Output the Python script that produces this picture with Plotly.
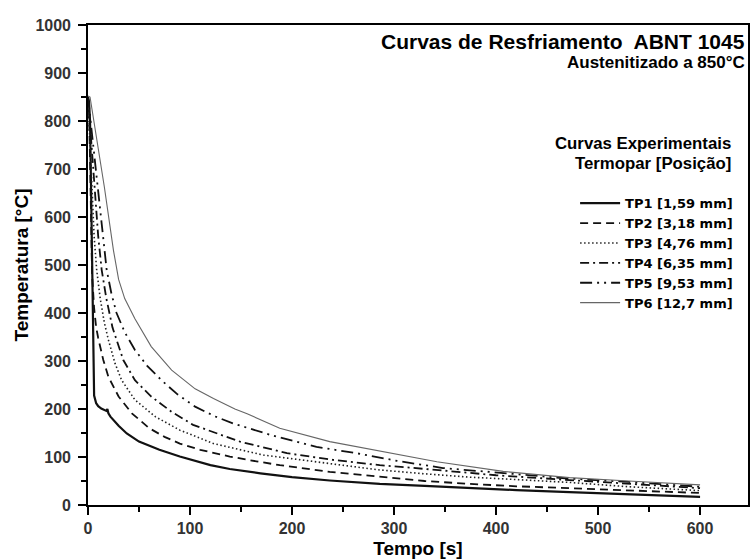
import plotly.graph_objects as go

# ---- data ----
t_tp1 = [0, 1, 2, 3, 4, 5, 6, 8, 10, 13, 18, 19, 20, 22, 30, 38, 50, 70, 90, 120, 139, 169, 200, 237, 286, 330, 374, 420, 472, 530, 600]
T_tp1 = [850, 840, 800, 650, 450, 280, 228, 212, 206, 201, 196, 200, 191, 184, 165, 149, 132, 115, 101, 83, 75, 66, 58, 51, 44, 40, 35, 31, 27, 22, 17]

t_tp2 = [0, 1, 2, 3, 4, 6, 8, 10, 15, 20, 30, 43, 60, 75, 90, 110, 139, 165, 188, 237, 286, 330, 374, 420, 472, 530, 600]
T_tp2 = [850, 820, 720, 600, 480, 410, 370, 348, 302, 267, 226, 191, 160, 142, 128, 115, 101, 91, 83, 69, 59, 50, 44, 39, 35, 30, 25]

t_tp3 = [0, 2, 4, 6, 8.5, 12, 16, 20, 26.5, 33, 46, 66, 90, 123, 172, 221, 286, 330, 374, 420, 472, 530, 600]
T_tp3 = [850, 760, 650, 560, 490, 430, 380, 344, 295, 260, 219, 184, 156, 128, 104, 90, 73, 65, 58, 53, 47, 38, 30]

t_tp4 = [0, 3, 6, 10, 13.4, 18, 24, 30, 34.6, 46, 62, 82, 103, 149, 195, 240, 286, 315, 360, 400, 472, 530, 600]
T_tp4 = [850, 760, 660, 560, 490, 430, 370, 330, 302, 260, 226, 194, 167, 132, 108, 94, 83, 78, 70, 62, 52, 44, 35]

t_tp5 = [0, 4, 8, 12, 15, 18.3, 23, 28, 36, 46, 58, 72, 88, 105, 124, 142, 182, 224, 263, 303, 348, 390, 427, 472, 530, 600]
T_tp5 = [850, 770, 690, 610, 550, 490, 440, 400, 360, 323, 290, 260, 230, 205, 185, 170, 144, 121, 108, 92, 77, 70, 63, 55, 48, 38]

t_tp6 = [0, 2, 16, 25, 30, 36, 46, 62, 82, 105, 123, 144, 156, 188, 237, 286, 342, 407, 472, 530, 600]
T_tp6 = [852, 850, 663, 530, 470, 430, 388, 330, 281, 242, 222, 200, 190, 160, 132, 112, 90, 70, 57, 50, 42]

series_names = ["TP1 [1,59 mm]", "TP2 [3,18 mm]", "TP3 [4,76 mm]",
                "TP4 [6,35 mm]", "TP5 [9,53 mm]", "TP6 [12,7 mm]"]

x_ticks = [0, 100, 200, 300, 400, 500, 600]
y_ticks = [0, 100, 200, 300, 400, 500, 600, 700, 800, 900, 1000]

# ---- styles ----
styles = [
    dict(color="#111111", width=2.2, dash="solid"),
    dict(color="#111111", width=1.8, dash="8px,5px"),
    dict(color="#222222", width=1.6, dash="1.5px,2.5px"),
    dict(color="#111111", width=1.8, dash="9px,4px,2px,4px"),
    dict(color="#111111", width=1.8, dash="12px,5px,2px,5px,2px,5px"),
    dict(color="#666666", width=1.1, dash="solid"),
]

FONT = "Liberation Sans, Arial, sans-serif"
LEGFONT = "DejaVu Sans, Liberation Sans, sans-serif"

fig = go.Figure()
data = [(t_tp1, T_tp1), (t_tp2, T_tp2), (t_tp3, T_tp3),
        (t_tp4, T_tp4), (t_tp5, T_tp5), (t_tp6, T_tp6)]
for (tx, ty), name, st in zip(data, series_names, styles):
    fig.add_trace(go.Scatter(x=tx, y=ty, mode="lines", name=name,
                             line=dict(color=st["color"], width=st["width"], dash=st["dash"])))

axis_common = dict(
    showline=True, linecolor="black", linewidth=1.6, mirror=True,
    showgrid=False, zeroline=False, automargin=False,
    ticks="outside", ticklen=8, tickwidth=1.5, tickcolor="black",
    tickfont=dict(family=FONT, size=16, color="#333333", weight="bold"),
)

fig.update_layout(
    width=753, height=560,
    margin=dict(l=88, r=5, t=25, b=55),
    paper_bgcolor="white", plot_bgcolor="white",
    font=dict(family=FONT, color="black"),
    xaxis=dict(range=[0, 647], tickvals=x_ticks,
               minor=dict(dtick=50, ticks="outside", ticklen=5, tickwidth=1.5, tickcolor="black"),
               title=dict(text="Tempo [s]", font=dict(family=FONT, size=19, color="black", weight="bold"), standoff=6),
               **axis_common),
    yaxis=dict(range=[0, 1000], tickvals=y_ticks,
               minor=dict(dtick=50, ticks="outside", ticklen=5, tickwidth=1.5, tickcolor="black"),
               title=dict(text="Temperatura [°C]", font=dict(family=FONT, size=19, color="black", weight="bold"), standoff=2),
               ticklabelstandoff=4,
               **axis_common),
    legend=dict(x=0.985, y=0.66, xanchor="right", yanchor="top",
                bgcolor="rgba(0,0,0,0)", borderwidth=0,
                font=dict(family=LEGFONT, size=13, color="black", weight="bold"),
                itemwidth=40, tracegroupgap=0),
    showlegend=True,
)

annotations = [
    dict(text="Curvas de Resfriamento\u00a0 ABNT 1045", x=0.999, y=0.965, size=21),
    dict(text="Austenitizado a 850°C", x=0.999, y=0.921, size=17),
    dict(text="Curvas Experimentais", x=0.977, y=0.754, size=16.8),
    dict(text="Termopar [Posição]", x=0.977, y=0.7125, size=16.8),
]
for a in annotations:
    fig.add_annotation(text=a["text"], x=a["x"], y=a["y"], xref="paper", yref="paper",
                       xanchor="right", yanchor="middle", showarrow=False,
                       font=dict(family=FONT, size=a["size"], color="black", weight="bold"))

fig.write_html("out.html", config={"displayModeBar": False},
               post_script="document.body.style.margin='0';")
